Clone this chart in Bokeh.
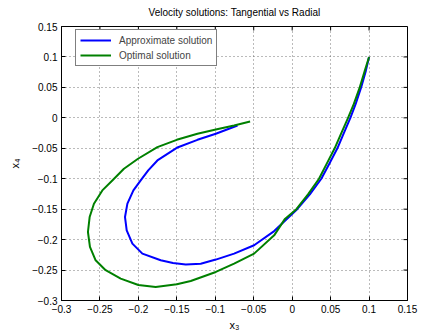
from bokeh.plotting import figure
from bokeh.models import Range1d, LinearAxis, FixedTicker, Legend, LegendItem, Title
from bokeh.embed import file_html
from bokeh.resources import INLINE

# Optimal solution (green)
opt_x3 = [0.100, 0.0944, 0.0879, 0.0801, 0.0727, 0.0632, 0.0553, 0.0445, 0.0349, 0.0206,
          0.0055, -0.0098, -0.0234, -0.0495, -0.0755, -0.0993, -0.1319, -0.150, -0.1775, -0.200,
          -0.2230, -0.2426, -0.2556, -0.2630, -0.2656, -0.2634, -0.2578, -0.2469, -0.2339, -0.2188,
          -0.2005, -0.1753, -0.1501, -0.1232, -0.0993, -0.0755, -0.0547]
opt_x4 = [0.100, 0.0771, 0.050, 0.0224, 0.000, -0.0273, -0.050, -0.0765, -0.100, -0.1257,
          -0.150, -0.1667, -0.193, -0.223, -0.2393, -0.2531, -0.2679, -0.2733, -0.2777, -0.2745,
          -0.2640, -0.2503, -0.2340, -0.2121, -0.1875, -0.1629, -0.1410, -0.1192, -0.1028, -0.0836,
          -0.0672, -0.0482, -0.0361, -0.0262, -0.0192, -0.0126, -0.0061]

# Approximate solution (blue)
apx_x3 = [0.100, 0.0958, 0.0897, 0.0825, 0.0757, 0.0665, 0.0588, 0.0478, 0.0379, 0.0230,
          0.0065, -0.0234, -0.0495, -0.0755, -0.0993, -0.1189, -0.1384, -0.1550, -0.1710, -0.1948,
          -0.2078, -0.2152, -0.2174, -0.2143, -0.2065, -0.1970, -0.1872, -0.1753, -0.1501, -0.1232,
          -0.0993, -0.0711]
apx_x4 = [0.100, 0.0771, 0.050, 0.0224, 0.000, -0.0273, -0.050, -0.0765, -0.100, -0.1257,
          -0.150, -0.186, -0.2093, -0.2230, -0.2328, -0.2395, -0.2410, -0.2385, -0.2340, -0.2230,
          -0.2066, -0.1848, -0.1629, -0.1410, -0.1192, -0.1028, -0.0864, -0.070, -0.0492, -0.0361,
          -0.0262, -0.0126]

tick_vals = [-0.3, -0.25, -0.2, -0.15, -0.1, -0.05, 0.0, 0.05, 0.1, 0.15]
tick_text = ["\u22120.3", "\u22120.25", "\u22120.2", "\u22120.15", "\u22120.1", "\u22120.05",
             "0", "0.05", "0.1", "0.15"]

FONT = "Liberation Sans"
X_MIN, X_MAX = -0.3, 0.15
Y_MIN, Y_MAX = -0.3, 0.15

p = figure(width=421, height=335, output_backend="svg", toolbar_location=None,
           x_range=Range1d(X_MIN, X_MAX), y_range=Range1d(Y_MIN, Y_MAX),
           x_axis_location=None, y_axis_location=None,
           min_border_left=61, min_border_right=14, min_border_top=26, min_border_bottom=35)
p.title = None
p.outline_line_color = "black"
p.outline_line_width = 1
p.background_fill_color = "white"
p.border_fill_color = "white"

overrides = {v: t for v, t in zip(tick_vals, tick_text)}

def make_axis(label, label_standoff):
    ax = LinearAxis(ticker=FixedTicker(ticks=tick_vals))
    ax.major_tick_in = 4
    ax.major_tick_out = 0
    ax.minor_tick_in = 0
    ax.minor_tick_out = 0
    ax.axis_line_color = "black"
    ax.major_tick_line_color = "black"
    ax.major_label_overrides = overrides
    ax.major_label_text_font = FONT
    ax.major_label_text_font_size = "10px"
    ax.major_label_text_color = "black"
    ax.major_label_standoff = 4
    ax.axis_label = label
    ax.axis_label_text_font = FONT
    ax.axis_label_text_font_size = "11px"
    ax.axis_label_text_font_style = "normal"
    ax.axis_label_text_color = "black"
    ax.axis_label_standoff = label_standoff
    return ax

p.add_layout(make_axis("x\u2083", 3), "below")
p.add_layout(make_axis("x\u2084", 8), "left")

t = Title(text="Velocity solutions: Tangential vs Radial", align="center",
          vertical_align="top",
          text_font=FONT, text_font_size="10px", text_font_style="normal",
          text_color="black", standoff=13, offset=0)
p.add_layout(t, "above")

for ax_dim in (0, 1):
    g = p.grid[ax_dim]
    g.ticker = FixedTicker(ticks=tick_vals)
    g.grid_line_color = "#555555"
    g.grid_line_dash = "1 3"
    g.grid_line_width = 1
    g.grid_line_alpha = 0.8

# inward ticks on the top and right edges of the box
p.ray(x=tick_vals, y=[Y_MAX] * len(tick_vals), length=4, length_units="screen",
      angle=-90, angle_units="deg", line_color="black", line_width=1)
p.ray(x=[X_MAX] * len(tick_vals), y=tick_vals, length=4, length_units="screen",
      angle=180, angle_units="deg", line_color="black", line_width=1)

r_apx = p.line(apx_x3, apx_x4, line_color="#0000ff", line_width=2, line_join="round")
r_opt = p.line(opt_x3, opt_x4, line_color="#008000", line_width=2, line_join="round")

legend = Legend(items=[LegendItem(label="Approximate solution", renderers=[r_apx]),
                       LegendItem(label="Optimal solution", renderers=[r_opt])],
                location=(14, 234), orientation="vertical",
                label_text_font=FONT, label_text_font_size="10px",
                label_height=12, glyph_height=12, glyph_width=31, label_standoff=8,
                spacing=3, padding=4, margin=0,
                border_line_color="black", border_line_width=1,
                background_fill_color="white", background_fill_alpha=1.0)
p.add_layout(legend, "center")

open("out.html", "w").write(file_html(p, INLINE))
